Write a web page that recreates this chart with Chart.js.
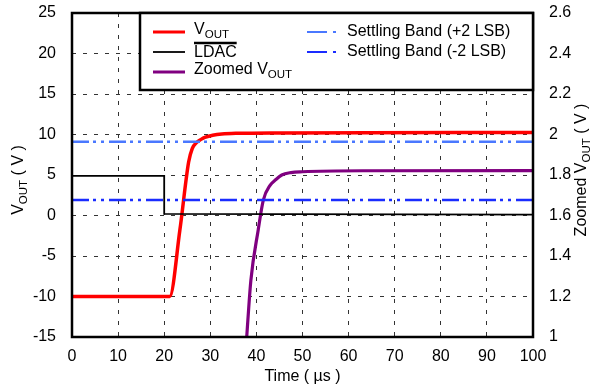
<!DOCTYPE html>
<html>
<head>
<meta charset="utf-8">
<script src="https://cdn.jsdelivr.net/npm/chart.js@4"></script>
<style>
  body { margin: 0; background: #fff; }
  canvas { display: block; }
</style>
</head>
<body>
<canvas id="myChart" width="591" height="387"></canvas>
<script>
// data
const voutTime = [0, 21.2, 23.4, 25.3, 26.1, 27, 28, 28.8, 30.5, 32.5, 36, 45, 100];
const voutValues = [-10, -10, -1.8, 6.6, 8.3, 9.0, 9.4, 9.65, 9.9, 10.06, 10.15, 10.2, 10.25];

const ldacTime = [0, 20, 20, 100];
const ldacValues = [4.9, 4.9, 0.2, 0.1];

const zoomTime = [37.6, 37.9, 38.8, 40.4, 41.5, 43, 44.1, 45.5, 47.5, 50, 63, 100];
const zoomValues = [0.9, 1.0, 1.28, 1.53, 1.676, 1.75, 1.775, 1.8, 1.812, 1.816, 1.821, 1.822];

const bandTime = [0, 100];
const bandPlus = [1.964, 1.964];
const bandMinus = [1.676, 1.676];

const xTicks = [0, 10, 20, 30, 40, 50, 60, 70, 80, 90, 100];
const leftTicks = [-15, -10, -5, 0, 5, 10, 15, 20, 25];
const rightTicks = [1, 1.2, 1.4, 1.6, 1.8, 2, 2.2, 2.4, 2.6];

const FONT = "Arial, 'Liberation Sans', sans-serif";
const dashBand = [17, 4, 3, 5, 3, 5];

function pts(xs, ys) {
  return xs.map((x, i) => ({ x: x, y: ys[i] }));
}

// draw text made of parts, some of them subscript
function drawParts(ctx, parts, x, y, size) {
  let cx = x;
  parts.forEach((p) => {
    const s = p[1] ? size * 0.72 : size;
    ctx.font = s + "px " + FONT;
    ctx.fillText(p[0], cx, p[1] ? y + size * 0.28 : y);
    cx += ctx.measureText(p[0]).width;
  });
  return cx;
}

function partsWidth(ctx, parts, size) {
  let w = 0;
  parts.forEach((p) => {
    ctx.font = (p[1] ? size * 0.72 : size) + "px " + FONT;
    w += ctx.measureText(p[0]).width;
  });
  return w;
}

const decorPlugin = {
  id: "decor",
  afterDraw(chart) {
    const ctx = chart.ctx;
    const a = chart.chartArea;
    ctx.save();

    // frame
    ctx.strokeStyle = "#000";
    ctx.lineWidth = 2.5;
    ctx.strokeRect(a.left, a.top, a.right - a.left, a.bottom - a.top);

    // legend box
    const lx = 140, ly = a.top, lw = a.right - 140, lh = 77;
    ctx.fillStyle = "#fff";
    ctx.fillRect(lx, ly, lw, lh);
    ctx.strokeRect(lx, ly, lw, lh);

    ctx.textBaseline = "middle";
    ctx.textAlign = "left";
    ctx.fillStyle = "#000";
    const rows = [32, 52, 72];

    ctx.lineWidth = 3;
    ctx.strokeStyle = "#ff0000";
    ctx.beginPath(); ctx.moveTo(153, rows[0]); ctx.lineTo(185, rows[0]); ctx.stroke();
    ctx.strokeStyle = "#000";
    ctx.lineWidth = 1.8;
    ctx.beginPath(); ctx.moveTo(153, rows[1]); ctx.lineTo(185, rows[1]); ctx.stroke();
    ctx.strokeStyle = "#800080";
    ctx.lineWidth = 3;
    ctx.beginPath(); ctx.moveTo(153, rows[2]); ctx.lineTo(185, rows[2]); ctx.stroke();

    drawParts(ctx, [["V"], ["OUT", true]], 194, rows[0] - 2, 16);
    ctx.font = "16px " + FONT;
    ctx.fillText("LDAC", 194, rows[1] + 1);
    const ldacW = ctx.measureText("LDAC").width;
    ctx.lineWidth = 2.5;
    ctx.strokeStyle = "#000";
    ctx.beginPath(); ctx.moveTo(194, 43); ctx.lineTo(194 + ldacW, 43); ctx.stroke();
    drawParts(ctx, [["Zoomed V"], ["OUT", true]], 194, rows[2] - 2, 16);

    ctx.lineWidth = 2;
    ctx.setLineDash([20, 6, 3, 40]);
    ctx.strokeStyle = "#4a78ff";
    ctx.beginPath(); ctx.moveTo(307, rows[0]); ctx.lineTo(337, rows[0]); ctx.stroke();
    ctx.strokeStyle = "#1a2cff";
    ctx.beginPath(); ctx.moveTo(307, rows[1]); ctx.lineTo(337, rows[1]); ctx.stroke();
    ctx.setLineDash([]);
    ctx.font = "16px " + FONT;
    ctx.fillText("Settling Band (+2 LSB)", 347, rows[0]);
    ctx.fillText("Settling Band (-2 LSB)", 347, rows[1]);

    // axis titles
    ctx.font = "16px " + FONT;
    ctx.textAlign = "center";
    ctx.fillText("Time ( \u00b5s )", (a.left + a.right) / 2, 377);

    ctx.textAlign = "left";
    const leftParts = [["V"], ["OUT", true], [" ( V )"]];
    ctx.save();
    ctx.translate(19, 180);
    ctx.rotate(-Math.PI / 2);
    drawParts(ctx, leftParts, -partsWidth(ctx, leftParts, 16) / 2, 0, 16);
    ctx.restore();

    const rightParts = [["Zoomed V"], ["OUT", true], [" ( V )"]];
    ctx.save();
    ctx.translate(582, 170);
    ctx.rotate(-Math.PI / 2);
    drawParts(ctx, rightParts, -partsWidth(ctx, rightParts, 16) / 2, 0, 16);
    ctx.restore();

    ctx.restore();
  },
};

const data = {
  datasets: [
    {
      label: "Settling Band (+2 LSB)",
      data: pts(bandTime, bandPlus),
      yAxisID: "y1",
      borderColor: "#4a78ff",
      borderWidth: 2.5,
      borderDash: dashBand,
      pointRadius: 0,
    },
    {
      label: "Settling Band (-2 LSB)",
      data: pts(bandTime, bandMinus),
      yAxisID: "y1",
      borderColor: "#1a2cff",
      borderWidth: 2.5,
      borderDash: dashBand,
      pointRadius: 0,
    },
    {
      label: "LDAC",
      data: pts(ldacTime, ldacValues),
      yAxisID: "y",
      borderColor: "#000",
      borderWidth: 1.8,
      pointRadius: 0,
    },
    {
      label: "VOUT",
      data: pts(voutTime, voutValues),
      yAxisID: "y",
      borderColor: "#ff0000",
      borderWidth: 3.5,
      pointRadius: 0,
      cubicInterpolationMode: "monotone",
    },
    {
      label: "Zoomed VOUT",
      data: pts(zoomTime, zoomValues),
      yAxisID: "y1",
      borderColor: "#800080",
      borderWidth: 3.2,
      pointRadius: 0,
      cubicInterpolationMode: "monotone",
    },
  ],
};

const tickFont = { family: FONT, size: 16 };

const config = {
  type: "line",
  data: data,
  options: {
    responsive: false,
    animation: false,
    devicePixelRatio: 1,
    layout: { padding: { top: 13, left: 0, right: 0, bottom: 0 } },
    plugins: { legend: { display: false }, tooltip: { enabled: false } },
    scales: {
      x: {
        type: "linear",
        min: 0,
        max: 100,
        afterBuildTicks: (s) => { s.ticks = xTicks.map((v) => ({ value: v })); },
        ticks: { color: "#000", font: tickFont, padding: 10, maxRotation: 0 },
        grid: { color: "#333", lineWidth: 1, drawTicks: false },
        border: { display: false, dash: [4, 7] },
        afterFit: (s) => { s.height = 50; s.paddingLeft = 0; s.paddingRight = 0; },
      },
      y: {
        position: "left",
        min: -15,
        max: 25,
        afterBuildTicks: (s) => { s.ticks = leftTicks.map((v) => ({ value: v })); },
        ticks: { color: "#000", font: tickFont, padding: 16 },
        grid: { color: "#333", lineWidth: 1, drawTicks: false },
        border: { display: false, dash: [4, 7] },
        afterFit: (s) => { s.width = 72; s.paddingTop = 0; s.paddingBottom = 0; },
      },
      y1: {
        position: "right",
        min: 1,
        max: 2.6,
        afterBuildTicks: (s) => { s.ticks = rightTicks.map((v) => ({ value: v })); },
        ticks: {
          color: "#000",
          font: tickFont,
          padding: 16,
          callback: (v) => String(Math.round(v * 10) / 10),
        },
        grid: { display: false, drawTicks: false },
        border: { display: false },
        afterFit: (s) => { s.width = 58; s.paddingTop = 0; s.paddingBottom = 0; },
      },
    },
  },
  plugins: [decorPlugin],
};

const myChart = new Chart(document.getElementById("myChart"), config);
</script>
</body>
</html>
